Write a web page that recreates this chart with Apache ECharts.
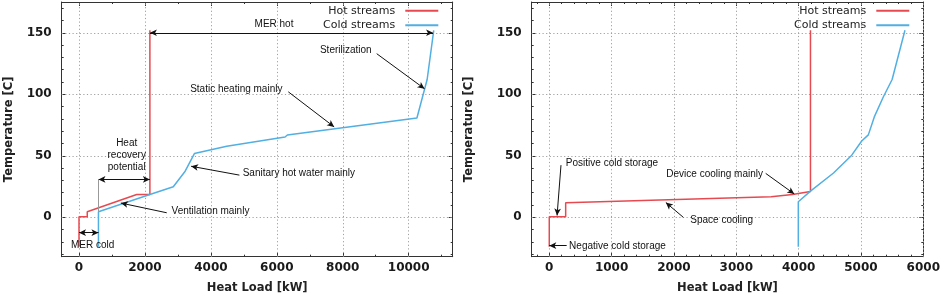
<!DOCTYPE html>
<html><head><meta charset="utf-8">
<script src="https://cdn.jsdelivr.net/npm/echarts@6/dist/echarts.min.js"></script>
<style>html,body{margin:0;padding:0;background:#fff}#c{width:941px;height:298px}</style>
</head><body><div id="c"></div>
<script>
// ---- data ----
const seriesNames = ['Hot streams', 'Cold streams'];

const leftHotLoad  = [0, 0, 250, 250, 1750, 2150, 2150];
const leftHotTemp  = [-24, 0.5, 0.5, 4.5, 18.6, 18.6, 152];
const leftColdLoad = [590, 590, 2150, 2860, 3220, 3500, 4480, 6250, 6320, 10250, 10560, 10760];
const leftColdTemp = [-24, 4.5, 18.6, 24.8, 37.5, 51.8, 57.8, 65.3, 66.9, 80.7, 112, 152];

const rightHotLoad  = [0, 0, 263, 263, 3560, 3575, 3900, 4190, 4190];
const rightHotTemp  = [-24, 0.5, 0.5, 11.8, 16.7, 18.3, 18.6, 21, 152];
const rightColdLoad = [3995, 3995, 4190, 4560, 4852, 5012, 5118, 5214, 5358, 5500, 5706];
const rightColdTemp = [-24, 12.7, 21.3, 36, 50.5, 62, 67, 81.6, 97.8, 112, 152];

const leftXTicks  = [0, 2000, 4000, 6000, 8000, 10000];
const rightXTicks = [0, 1000, 2000, 3000, 4000, 5000, 6000];
const yTicks      = [0, 50, 100, 150];

const xTitle = 'Heat Load [kW]';
const yTitle = 'Temperature [C]';

// annotations (text, position in data units)
const leftNotes = [
  ['MER hot', 5915, 156.8],
  ['Sterilization', 8092, 135.5],
  ['Static heating mainly', 4771, 103.8],
  ['Sanitary hot water mainly', 6668, 35.7],
  ['Ventilation mainly', 3988, 5.1],
  ['Heat\nrecovery\npotential', 1447, 50.5],
  ['MER cold', 413, -22.5]
];
const leftArrows = [
  [2150, 150, 10740, 150, true],
  [0, -12.5, 590, -12.5, true],
  [590, 30.8, 2150, 30.8, true],
  [9030, 133, 10480, 104.5, false],
  [6348, 102, 7740, 73.5, false],
  [4865, 34.3, 3400, 41.5, false],
  [2661, 3.7, 1270, 11.6, false]
];
const leftGuide = [590, 30.8, 590, 4.5];

const rightNotes = [
  ['Positive cold storage', 1006, 44.3],
  ['Negative cold storage', 1094, -23.3],
  ['Space cooling', 2766, -2.7],
  ['Device cooling mainly', 2653, 34.9]
];
const rightArrows = [
  [188, 42.4, 125, 1.5, false],
  [279, -23, 0, -23, false],
  [2150, 0, 1870, 12, false],
  [3472, 35.7, 3930, 19, false]
];

// ---- build ----
const zip = (a, b) => a.map((v, i) => [v, b[i]]);
function range(a, b, step) { const r = []; for (let v = a; v <= b + 1e-9; v += step) r.push(Math.round(v * 1000) / 1000); return r; }

const RED = '#e64a50', BLUE = '#52afe2';
const AX = '#333';
const tickFont = { fontFamily: 'DejaVu Sans', fontSize: 12, fontWeight: 'bold', color: '#1a1a1a' };
const nameFont = { fontFamily: 'DejaVu Sans', fontSize: 11.5, fontWeight: 'bold', color: '#222' };
const gridLine = { color: '#a0a0a0', type: [1.2, 2.4], width: 1 };

const grids = [
  { left: 61.7, right: 941 - 452.7, top: 2, bottom: 298 - 256.7, outerBoundsMode: 'none', containLabel: false },
  { left: 531.7, right: 941 - 923.3, top: 2, bottom: 298 - 256.7, outerBoundsMode: 'none', containLabel: false }
];

const xr = [[-525, 11335], [-282, 6000]];
const yr = [-32, 175];
const xMaj = [leftXTicks, rightXTicks];
const xMin = [range(0, 11000, 1000), range(-200, 6000, 200)];
const yMaj = yTicks;
const yMin = range(-30, 170, 10);
const yNameGap = [47, 57];

const xAxis = [], yAxis = [];
function mk(g, min, max, pos, custom, len, main) {
  return {
    type: 'value', gridIndex: g, min: min, max: max, position: pos,
    axisLine: { show: !!main, onZero: false, lineStyle: { color: AX, width: 1 } },
    axisTick: { show: true, inside: true, length: len, customValues: custom, lineStyle: { color: AX, width: 1 } },
    axisLabel: { show: false },
    splitLine: { show: false },
    minorTick: { show: false }
  };
}
const fmt = v => String(v);
for (let g = 0; g < 2; g++) {
  const xb = mk(g, xr[g][0], xr[g][1], 'bottom', xMaj[g], 4, true);
  xb.axisLabel = Object.assign({ show: true, customValues: xMaj[g], margin: 5, formatter: fmt }, tickFont);
  xb.name = xTitle; xb.nameLocation = 'middle'; xb.nameGap = 25; xb.nameTextStyle = nameFont;
  xAxis.push(xb);
  xAxis.push(mk(g, xr[g][0], xr[g][1], 'bottom', xMin[g], 2, false));
  xAxis.push(mk(g, xr[g][0], xr[g][1], 'top', xMaj[g], 4, true));
  xAxis.push(mk(g, xr[g][0], xr[g][1], 'top', xMin[g], 2, false));

  const yl = mk(g, yr[0], yr[1], 'left', yMaj, 4, true);
  yl.axisLabel = Object.assign({ show: true, customValues: yMaj, margin: 10, formatter: fmt }, tickFont);
  yl.name = yTitle; yl.nameLocation = 'middle'; yl.nameGap = yNameGap[g]; yl.nameTextStyle = nameFont;
  yAxis.push(yl);
  yAxis.push(mk(g, yr[0], yr[1], 'left', yMin, 2, false));
  yAxis.push(mk(g, yr[0], yr[1], 'right', yMaj, 4, true));
  yAxis.push(mk(g, yr[0], yr[1], 'right', yMin, 2, false));
}

function arrowData(list) {
  return list.map(a => [
    { coord: [a[0], a[1]], symbol: a[4] ? 'arrow' : 'none' },
    { coord: [a[2], a[3]], symbol: 'arrow' }
  ]);
}
function noteData(list) {
  return list.map(n => ({ name: n[0], coord: [n[1], n[2]] }));
}
function gridData(xs, ys) {
  return xs.map(v => ({ xAxis: v })).concat(ys.map(v => ({ yAxis: v })));
}
const noteLabel = { show: true, position: 'inside', formatter: '{b}', color: '#111', fontSize: 10, fontFamily: 'Liberation Sans', lineHeight: 11.7 };

function lineSeries(name, g, data, color, opts) {
  const s = {
    name: name, type: 'line', xAxisIndex: g * 4, yAxisIndex: g * 4, data: data,
    showSymbol: false, symbol: 'none', lineStyle: { color: color, width: 1.5 }, itemStyle: { color: color },
    animation: false, silent: true, z: 3
  };
  if (opts.arrows) {
    const d = arrowData(opts.arrows);
    if (opts.guide) { const q = opts.guide; d.push([{ coord: [q[0], q[1]], symbol: 'none', lineStyle: { color: '#999', width: 1, type: 'solid' } }, { coord: [q[2], q[3]], symbol: 'none' }]); }
    s.markLine = { silent: true, animation: false, symbol: ['none', 'arrow'], symbolSize: [5, 7], label: { show: false },
      lineStyle: { color: '#111', width: 1, type: 'solid' }, emphasis: { disabled: true }, data: d };
  }
  if (opts.grid) {
    s.markLine = { silent: true, animation: false, symbol: ['none', 'none'], label: { show: false }, z: 1,
      lineStyle: gridLine, emphasis: { disabled: true }, data: gridData(opts.grid[0], opts.grid[1]) };
  }
  if (opts.notes) {
    s.markPoint = { silent: true, animation: false, symbol: 'rect', symbolSize: 1, itemStyle: { color: 'rgba(0,0,0,0)' },
      label: noteLabel, emphasis: { disabled: true }, data: noteData(opts.notes) };
  }
  return s;
}

const series = [
  lineSeries(seriesNames[0], 0, zip(leftHotLoad, leftHotTemp), RED, { arrows: leftArrows, guide: leftGuide }),
  lineSeries(seriesNames[1], 0, zip(leftColdLoad, leftColdTemp), BLUE, { notes: leftNotes, grid: [leftXTicks, yTicks] }),
  lineSeries(seriesNames[0], 1, zip(rightHotLoad, rightHotTemp), RED, { arrows: rightArrows }),
  lineSeries(seriesNames[1], 1, zip(rightColdLoad, rightColdTemp), BLUE, { notes: rightNotes, grid: [rightXTicks, yTicks] })
];

function legend(right) {
  return {
    data: seriesNames, orient: 'vertical', align: 'right', right: right, top: 4.7, padding: 0,
    itemWidth: 33, itemHeight: 2, itemGap: 2, icon: 'rect', selectedMode: false,
    textStyle: { fontFamily: 'DejaVu Sans', fontSize: 11, color: '#222', lineHeight: 12.3, padding: [0, 5, 0, 0] }
  };
}

const chart = echarts.init(document.getElementById('c'), null, { renderer: 'canvas' });
chart.setOption({
  backgroundColor: '#fff',
  animation: false,
  grid: grids,
  legend: [legend(941 - 438.3), legend(941 - 909.3)],
  xAxis: xAxis, yAxis: yAxis,
  series: series
});
</script></body></html>
